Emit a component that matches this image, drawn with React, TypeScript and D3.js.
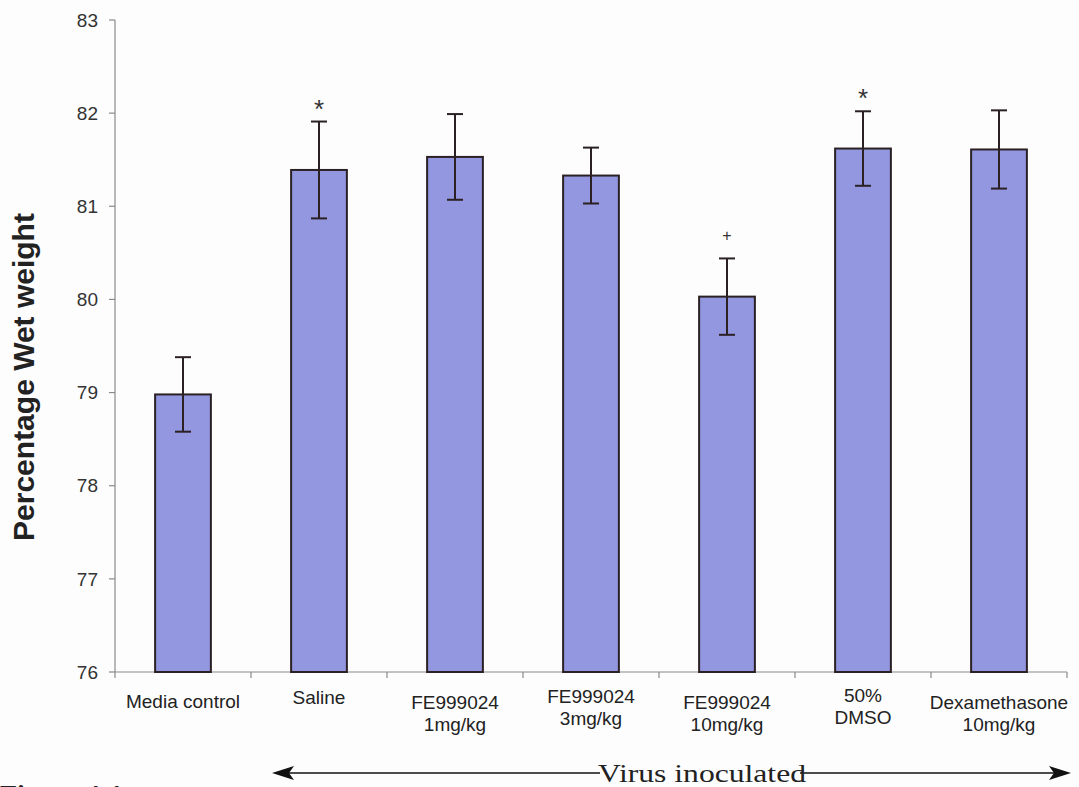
import React from "react";
import * as d3 from "d3";

const categories = ["Media control", "Saline", "FE999024 1mg/kg", "FE999024 3mg/kg", "FE999024 10mg/kg", "50% DMSO", "Dexamethasone 10mg/kg"];
const labelLines = [["Media control"], ["Saline"], ["FE999024", "1mg/kg"], ["FE999024", "3mg/kg"], ["FE999024", "10mg/kg"], ["50%", "DMSO"], ["Dexamethasone", "10mg/kg"]];
const means = [78.98, 81.39, 81.53, 81.33, 80.03, 81.62, 81.61];
const errors = [0.4, 0.52, 0.46, 0.3, 0.41, 0.4, 0.42];
const markers = ["", "*", "", "", "+", "*", ""];
const yTicks = [76, 77, 78, 79, 80, 81, 82, 83];

const W = 1079, H = 787;
const left = 115, right = 1067, top = 20, bottom = 672;

export default function App() {
  const x = d3.scaleBand<string>().domain(categories).range([left, right]).paddingInner(0.59).paddingOuter(0.295);
  const y = d3.scaleLinear().domain([76, 83]).range([bottom, top]);
  const step = x.step();
  const ink = "#2b2024";
  const font = "Arial, 'Liberation Sans', sans-serif";
  const serif = "'Liberation Serif', 'Times New Roman', serif";
  const arrowY = 773;
  const labelBase = [708, 704, 709, 703, 709, 702, 709];
  return (
    <svg width={W} height={H} style={{ position: "absolute", left: 0, top: 0, background: "#fdfdfd" }}>
      <rect x={0} y={0} width={W} height={H} fill="#fdfdfd" />
      {/* axes */}
      <line x1={left} x2={left} y1={top} y2={bottom} stroke="#8a8a8a" strokeWidth={1.2} />
      <line x1={left} x2={right} y1={bottom} y2={bottom} stroke="#8a8a8a" strokeWidth={1.2} />
      {yTicks.map((t) => (
        <g key={t}>
          <line x1={left - 6} x2={left} y1={y(t)} y2={y(t)} stroke="#8a8a8a" strokeWidth={1.2} />
          <text x={left - 17} y={y(t)} dy="0.35em" textAnchor="end" fontFamily={font} fontSize={19} fill="#333">{t}</text>
        </g>
      ))}
      {d3.range(categories.length + 1).map((i) => (
        <line key={i} x1={left + i * step} x2={left + i * step} y1={bottom} y2={bottom + 6} stroke="#8a8a8a" strokeWidth={1.2} />
      ))}
      {/* bars */}
      {categories.map((c, i) => {
        const bx = x(c)!;
        const cx = bx + x.bandwidth() / 2;
        const yt = y(means[i]);
        const e1 = y(means[i] + errors[i]);
        const e2 = y(means[i] - errors[i]);
        return (
          <g key={c}>
            <rect x={bx} y={yt} width={x.bandwidth()} height={bottom - yt} fill="#9297df" stroke={ink} strokeWidth={2} />
            <line x1={cx} x2={cx} y1={e1} y2={e2} stroke={ink} strokeWidth={2} />
            <line x1={cx - 8} x2={cx + 8} y1={e1} y2={e1} stroke={ink} strokeWidth={2} />
            <line x1={cx - 8} x2={cx + 8} y1={e2} y2={e2} stroke={ink} strokeWidth={2} />
            {markers[i] === "*" && (
              <text x={cx} y={e1 - 4} textAnchor="middle" fontFamily={font} fontSize={26} fill="#333">*</text>
            )}
            {markers[i] === "+" && (
              <text x={cx} y={e1 - 17} textAnchor="middle" fontFamily={font} fontSize={16} fill="#333">+</text>
            )}
            {labelLines[i].map((l, j) => (
              <text key={j} x={cx} y={labelBase[i] + j * 22}
                textAnchor="middle" fontFamily={font} fontSize={19} fill="#222">{l}</text>
            ))}
          </g>
        );
      })}
      {/* y title */}
      <text transform={`translate(34,${377}) rotate(-90)`} textAnchor="middle" fontFamily={font} fontWeight="bold" fontSize={30} fill="#222">Percentage Wet weight</text>
      {/* arrow */}
      <line x1={285} x2={600} y1={arrowY} y2={arrowY} stroke="#111" strokeWidth={1.5} />
      <line x1={800} x2={1058} y1={arrowY} y2={arrowY} stroke="#111" strokeWidth={1.5} />
      <path d={`M272,${arrowY} L294,${arrowY - 7} L289,${arrowY} L294,${arrowY + 7} Z`} fill="#111" />
      <path d={`M1071,${arrowY} L1049,${arrowY - 7} L1054,${arrowY} L1049,${arrowY + 7} Z`} fill="#111" />
      <text x={598} y={782} textLength={208} lengthAdjust="spacingAndGlyphs" fontFamily={serif} fontSize={25} fill="#222">Virus inoculated</text>
      <text x={0} y={804} fontFamily={serif} fontWeight="bold" fontSize={28} fill="#222">Figure 4.4</text>
    </svg>
  );
}
